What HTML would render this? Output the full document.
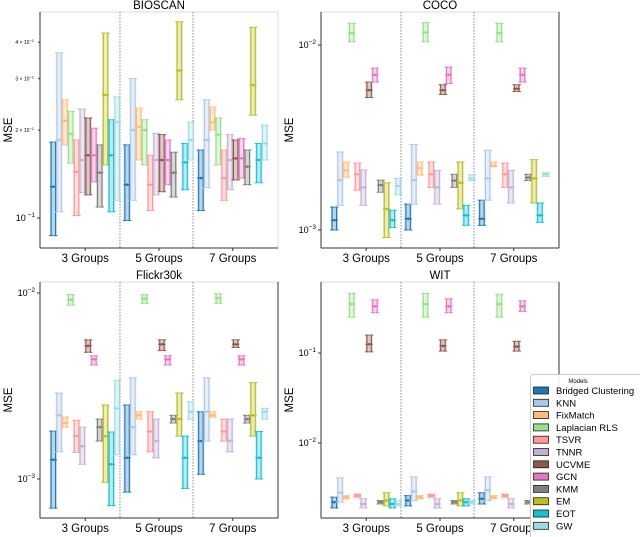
<!DOCTYPE html>
<html><head><meta charset="utf-8"><style>
body{margin:0;background:#fff;}
svg{display:block;font-family:"Liberation Sans","DejaVu Sans",sans-serif;}
</style></head><body>
<svg id="chart" width="640" height="537" viewBox="0 0 640 537">
<g id="panels"></g>
<g id="legend"></g>
</svg>
<script>
const models = ["Bridged Clustering","KNN","FixMatch","Laplacian RLS","TSVR","TNNR","UCVME","GCN","KMM","EM","EOT","GW"];
const colors = ["#1f77b4","#aec7e8","#ffbb78","#98df8a","#ff9896","#c5b0d5","#8c564b","#e377c2","#7f7f7f","#bcbd22","#17becf","#9edae5"];
const groups = ["3 Groups","5 Groups","7 Groups"];

// BIOSCAN
const bioscanMid = [
 [0.128,0.185,0.215,0.194,0.144,0.158,0.164,0.164,0.143,0.264,0.164,0.213],
 [0.130,0.200,0.205,0.200,0.130,0.158,0.158,0.158,0.143,0.320,0.155,0.185],
 [0.137,0.185,0.213,0.193,0.137,0.158,0.160,0.160,0.150,0.285,0.158,0.180]];
const bioscanLo = [
 [0.087,0.105,0.178,0.154,0.102,0.122,0.120,0.133,0.109,0.152,0.105,0.115],
 [0.098,0.115,0.158,0.152,0.106,0.120,0.123,0.130,0.118,0.254,0.125,0.158],
 [0.106,0.127,0.200,0.152,0.115,0.125,0.135,0.137,0.130,0.225,0.132,0.158]];
const bioscanHi = [
 [0.182,0.368,0.254,0.232,0.185,0.236,0.220,0.203,0.178,0.430,0.217,0.260],
 [0.178,0.300,0.238,0.217,0.164,0.195,0.193,0.185,0.168,0.470,0.180,0.213],
 [0.171,0.254,0.240,0.220,0.171,0.193,0.185,0.187,0.171,0.450,0.180,0.208]];
// COCO
const cocoMid = [
 [0.00113,0.00186,0.0021,0.0116,0.0020,0.0017,0.0057,0.0069,0.00175,0.0013,0.00113,0.00173],
 [0.00115,0.00186,0.00216,0.0117,0.0020,0.0017,0.0057,0.0069,0.00185,0.0018,0.0012,0.0019],
 [0.00115,0.0019,0.00222,0.0116,0.0020,0.0017,0.0058,0.0069,0.00192,0.0019,0.0012,0.0020]];
const cocoLo = [
 [0.00100,0.00136,0.00193,0.0104,0.00164,0.00136,0.0052,0.0063,0.0016,0.00091,0.00103,0.00155],
 [0.00100,0.00138,0.00198,0.0104,0.0017,0.00138,0.0054,0.0062,0.0017,0.0013,0.00106,0.00185],
 [0.00106,0.00145,0.0022,0.0104,0.0017,0.0014,0.0056,0.0063,0.00185,0.0014,0.0011,0.00195]];
const cocoHi = [
 [0.00133,0.00264,0.00233,0.0131,0.0023,0.00211,0.0063,0.0075,0.00186,0.0018,0.00128,0.0019],
 [0.00138,0.0029,0.00233,0.0132,0.00233,0.0021,0.0061,0.0076,0.0020,0.00233,0.00136,0.00199],
 [0.00145,0.0027,0.00233,0.0131,0.0023,0.0021,0.0061,0.0075,0.0020,0.0024,0.0014,0.00204]];
// Flickr30k
const flickrMid = [
 [0.00127,0.0022,0.0020,0.0092,0.0017,0.0015,0.0052,0.0044,0.0019,0.0017,0.0012,0.0024],
 [0.0013,0.0019,0.0022,0.0093,0.0018,0.0016,0.0053,0.0044,0.0021,0.0021,0.0013,0.0023],
 [0.0016,0.0023,0.0022,0.0094,0.0018,0.0016,0.0053,0.0044,0.0021,0.0022,0.0013,0.0023]];
const flickrLo = [
 [0.000697,0.0014,0.0019,0.0086,0.00139,0.0012,0.0048,0.0041,0.0016,0.00096,0.00072,0.00135],
 [0.00085,0.00135,0.0021,0.0088,0.0014,0.0013,0.0049,0.0041,0.0020,0.0017,0.00089,0.0021],
 [0.00106,0.0016,0.00215,0.0088,0.0016,0.0014,0.0051,0.0041,0.0020,0.0017,0.0010,0.0021]];
const flickrHi = [
 [0.00181,0.0029,0.00215,0.0098,0.00207,0.0019,0.0056,0.0046,0.0021,0.0025,0.00179,0.0034],
 [0.0025,0.0035,0.0023,0.0098,0.0023,0.0021,0.0056,0.0046,0.0022,0.0029,0.0017,0.0026],
 [0.0023,0.0035,0.0023,0.0099,0.0021,0.0021,0.0056,0.0046,0.0022,0.0033,0.0018,0.0024]];
// WIT
const witMid = [
 [0.0022,0.0028,0.0025,0.35,0.0026,0.0021,0.125,0.33,0.0022,0.0023,0.0021,0.0021],
 [0.0023,0.0029,0.0025,0.35,0.0026,0.0021,0.120,0.33,0.0022,0.0023,0.0022,0.0022],
 [0.0024,0.0030,0.0025,0.35,0.0026,0.0021,0.118,0.33,0.0022,0.0023,0.0022,0.0022]];
const witLo = [
 [0.0019,0.0022,0.0024,0.25,0.0025,0.0019,0.103,0.28,0.0021,0.0020,0.0019,0.0020],
 [0.0020,0.0023,0.0024,0.25,0.0025,0.0019,0.105,0.28,0.0021,0.0020,0.0020,0.0021],
 [0.0021,0.0023,0.0024,0.25,0.0025,0.0019,0.105,0.29,0.0021,0.0020,0.0020,0.0021]];
const witHi = [
 [0.0025,0.0041,0.0026,0.46,0.0027,0.0024,0.158,0.39,0.0023,0.0028,0.0024,0.0023],
 [0.0026,0.0042,0.0026,0.46,0.0027,0.0024,0.140,0.40,0.0023,0.0028,0.0024,0.0023],
 [0.0028,0.0042,0.0026,0.45,0.0027,0.0024,0.135,0.38,0.0023,0.0028,0.0024,0.0023]];

const NS = "http://www.w3.org/2000/svg";
function mk(tag, attrs, parent){const e=document.createElementNS(NS,tag);for(const k in attrs)e.setAttribute(k,attrs[k]);parent.appendChild(e);return e;}

const panels = [
 {name:"bioscan",title:"BIOSCAN",x0:40,x1:278,y0:12,y1:248,refY:218,refV:-1,dec:292,mid:bioscanMid,lo:bioscanLo,hi:bioscanHi,
  ticks:[[-1,"10"," −1"]],minor:[[0.2,"2 × 10"],[0.3,"3 × 10"],[0.4,"4 × 10"]]},
 {name:"coco",title:"COCO",x0:321,x1:559,y0:12,y1:248,refY:45,refV:-2,dec:185,mid:cocoMid,lo:cocoLo,hi:cocoHi,
  ticks:[[-2,"10","−2"],[-3,"10","−3"]],minor:[]},
 {name:"flickr30k",title:"Flickr30k",x0:40,x1:278,y0:282,y1:518,refY:293,refV:-2,dec:186,mid:flickrMid,lo:flickrLo,hi:flickrHi,
  ticks:[[-2,"10","−2"],[-3,"10","−3"]],minor:[]},
 {name:"wit",title:"WIT",x0:321,x1:559,y0:282,y1:518,refY:353,refV:-1,dec:90,mid:witMid,lo:witLo,hi:witHi,
  ticks:[[-1,"10","−1"],[-2,"10","−2"]],minor:[]}
];

const root = document.getElementById("panels");
panels.forEach(p=>{
  const g = mk("g",{},root);
  
  
  const yS = v => p.refY - (Math.log10(v)-p.refV)*p.dec;
  const w = p.x1-p.x0;
  const gx = i => p.x0 + w*[0.19,0.5,0.81][i];
  // frame
  mk("rect",{x:p.x0,y:p.y0,width:w,height:p.y1-p.y0,fill:"#fff",stroke:"#ddd","stroke-width":1},g);
  mk("line",{x1:p.x0,y1:p.y0,x2:p.x0,y2:p.y1,stroke:"#333","stroke-width":1},g);
  mk("line",{x1:p.x0,y1:p.y1,x2:p.x1,y2:p.y1,stroke:"#333","stroke-width":1},g);
  if(p.name!=="bioscan") mk("line",{x1:p.x1,y1:p.y0,x2:p.x1,y2:p.y1,stroke:"#333","stroke-width":1},g);
  // separators
  [0.336,0.643].forEach(f=>{
    const s=mk("line",{x1:p.x0+w*f,y1:p.y0,x2:p.x0+w*f,y2:p.y1,stroke:"#888","stroke-width":1,"stroke-dasharray":"1.5,1.5"},g);
    
    
  });
  // title
  const t=mk("text",{x:(p.x0+p.x1)/2,y:p.y0-3,"text-anchor":"middle","font-size":11.5,fill:"#000"},g);
  t.textContent=p.title;
  
  
  // y label
  const yl=mk("text",{x:0,y:0,"text-anchor":"middle","font-size":11.5,transform:`translate(${p.x0-28},${(p.y0+p.y1)/2}) rotate(-90)`},g);
  yl.textContent="MSE";
  
  
  // ticks
  p.ticks.forEach(tk=>{
    const y=yS(Math.pow(10,tk[0]));
    mk("line",{x1:p.x0-3,y1:y,x2:p.x0,y2:y,stroke:"#333"},g);
    const tx=mk("text",{x:p.x0-5,y:y+3,"text-anchor":"end","font-size":9},g);
    tx.textContent=tk[1];
    const sp=mk("tspan",{dy:-4,"font-size":6.5},tx);sp.textContent=tk[2];
    
    
  });
  p.minor.forEach(tk=>{
    const y=yS(tk[0]);
    mk("line",{x1:p.x0-2,y1:y,x2:p.x0,y2:y,stroke:"#333"},g);
    const tx=mk("text",{x:p.x0-6,y:y+2,"text-anchor":"end","font-size":5},g);
    tx.textContent=tk[1];
    const sp=mk("tspan",{dy:-2,"font-size":4},tx);sp.textContent="−1";
    
    
  });
  // x ticks
  groups.forEach((gn,i)=>{
    mk("line",{x1:gx(i),y1:p.y1,x2:gx(i),y2:p.y1+3,stroke:"#333"},g);
    const tx=mk("text",{x:gx(i),y:p.y1+14,"text-anchor":"middle","font-size":11.5},g);
    tx.textContent=gn;
    
    
  });
  // error bars
  groups.forEach((gn,gi)=>{
    models.forEach((m,mi)=>{
      const cx=gx(gi)+(mi-5.5)*5.8;
      const hi=yS(p.hi[gi][mi]), lo=yS(p.lo[gi][mi]), md=yS(p.mid[gi][mi]);
      const c=colors[mi];
      const bg=mk("g",{},g);
      
      
      mk("rect",{x:cx-3.5,y:hi,width:7,height:Math.max(1,lo-hi),fill:c,opacity:0.3},bg);
      [-2.2,2.2].forEach(dx=>{
        mk("line",{x1:cx+dx,y1:hi,x2:cx+dx,y2:lo,stroke:c,"stroke-width":1.1},bg);
        mk("line",{x1:cx+dx-2,y1:hi,x2:cx+dx+2,y2:hi,stroke:c,"stroke-width":1},bg);
        mk("line",{x1:cx+dx-2,y1:lo,x2:cx+dx+2,y2:lo,stroke:c,"stroke-width":1},bg);
      });
      mk("line",{x1:cx-3.5,y1:md,x2:cx+3.5,y2:md,stroke:c,"stroke-width":1.4},bg);
      mk("circle",{cx:cx,cy:md,r:1.3,fill:c},bg);
    });
  });
});

// legend
const lg=document.getElementById("legend");
mk("rect",{x:530.5,y:374.5,width:115,height:170,rx:3,fill:"#fff","fill-opacity":0.9,stroke:"#ccc"},lg);
const lt=mk("text",{x:578,y:383,"text-anchor":"middle","font-size":6},lg);
lt.textContent="Models";
models.forEach((m,i)=>{
  const y=391+i*12.3;
  const e=mk("g",{},lg);
  
  
  mk("rect",{x:533.5,y:y-4,width:15,height:7,fill:colors[i],stroke:"#222","stroke-width":0.8},e);
  const tx=mk("text",{x:556,y:y+3,"font-size":9.5},e);
  tx.textContent=m;
});
</script>
</body></html>
